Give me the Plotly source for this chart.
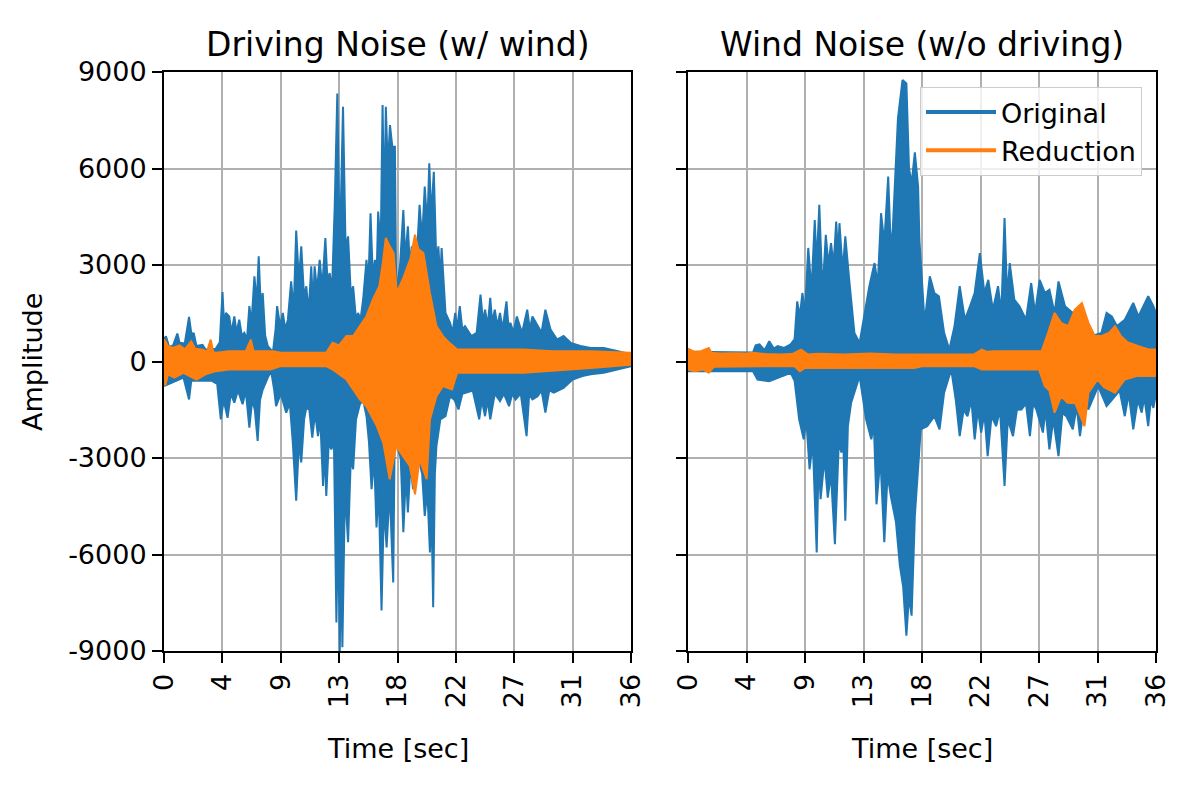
import plotly.graph_objects as go

# Envelope of each waveform as (time [s], amplitude) pairs
drive_orig_top = [
    (0, 700), (0.15, 780), (0.4, 450), (0.7, 500), (1.03, 870), (1.2, 580), (1.6, 560),
    (1.93, 1390), (2.1, 890), (2.3, 870), (2.5, 480), (2.97, 520), (3.2, 370), (4.0, 400),
    (4.3, 600), (4.51, 2160), (4.65, 1000), (4.77, 1510), (5.03, 1400), (5.2, 900),
    (5.42, 1400), (5.6, 900), (5.8, 1300), (6.0, 800), (6.19, 890), (6.4, 700), (6.58, 1720),
    (6.75, 1200), (6.97, 2650), (7.15, 1800), (7.3, 3270), (7.45, 1800), (7.61, 2130),
    (7.8, 800), (8.0, 480), (8.4, 300), (8.6, 1000), (8.72, 1720), (8.95, 1100), (9.16, 1510),
    (9.35, 1000), (9.55, 1300), (9.8, 2490), (10.0, 1600), (10.19, 4070), (10.4, 2500),
    (10.58, 3580), (10.8, 2000), (10.97, 2340), (11.15, 1500), (11.35, 2960), (11.5, 1700),
    (11.61, 2960), (11.8, 2200), (12.0, 3160), (12.2, 2300), (12.44, 3840), (12.6, 2500),
    (12.77, 2750), (12.95, 2200), (13.16, 4820), (13.36, 8330), (13.55, 3370), (13.8, 7920),
    (14.0, 3500), (14.19, 3890), (14.4, 2100), (14.58, 2340), (14.8, 1300), (14.96, 1510),
    (15.15, 1300), (15.35, 1920), (15.61, 3160), (15.75, 2300), (15.92, 4610), (16.1, 2600),
    (16.26, 3160), (16.4, 2800), (16.51, 4660), (16.7, 3500), (16.85, 7970), (16.98, 4500),
    (17.1, 7920), (17.25, 6000), (17.42, 7350), (17.6, 6680), (17.8, 6680), (17.9, 2130),
    (18.2, 3000), (18.45, 4710), (18.6, 3200), (18.8, 4200), (18.95, 3000), (19.1, 3580),
    (19.35, 2130), (19.55, 3500), (19.7, 4870), (19.9, 3800), (20.1, 5440), (20.3, 4200),
    (20.45, 6160), (20.6, 4500), (20.8, 5900), (21.0, 3000), (21.15, 3580), (21.3, 2500),
    (21.4, 3530), (21.7, 1510), (22.05, 1200), (22.25, 900), (22.45, 1510), (22.6, 1000),
    (22.8, 1720), (23.0, 1000), (23.2, 1100), (23.7, 790), (24.1, 890), (24.4, 2080),
    (24.6, 1200), (24.75, 1610), (24.95, 1100), (25.15, 1980), (25.3, 1200), (25.5, 1610),
    (25.7, 1100), (25.9, 1510), (26.1, 1000), (26.4, 1870), (26.55, 1100), (26.7, 1200),
    (26.95, 900), (27.2, 1400), (27.6, 890), (28.0, 1610), (28.2, 1000), (28.4, 1400),
    (28.8, 1100), (29.1, 900), (29.4, 1610), (29.8, 990), (30.3, 680), (30.8, 790),
    (31.35, 580), (32.1, 480), (32.9, 420), (33.9, 420), (35.0, 320), (36.0, 220),
]
drive_orig_bot = [
    (0, -765), (0.4, -700), (0.9, -610), (1.5, -500), (1.93, -1180), (2.1, -600), (3.7, -600),
    (4.1, -700), (4.38, -1800), (4.6, -1200), (4.9, -1750), (5.15, -1000), (5.42, -1280),
    (5.7, -900), (6.06, -1330), (6.3, -900), (6.58, -2060), (6.8, -1200), (7.0, -1500),
    (7.22, -2470), (7.4, -1200), (7.61, -870), (8.0, -500), (8.26, -300), (8.5, -900),
    (8.64, -1390), (9.0, -1000), (9.42, -1590), (9.7, -1300), (9.93, -2520), (10.19, -4330),
    (10.4, -2500), (10.58, -3140), (10.8, -1800), (10.97, -1440), (11.2, -1500),
    (11.43, -2370), (11.65, -1600), (11.87, -2320), (12.05, -1800), (12.26, -3870),
    (12.4, -2800), (12.51, -4180), (12.7, -2500), (12.9, -2730), (13.1, -2500),
    (13.29, -8110), (13.42, -5000), (13.55, -9000), (13.65, -6000), (13.75, -8880),
    (13.95, -4000), (14.19, -5620), (14.4, -3000), (14.58, -3350), (14.8, -1800),
    (15.1, -1330), (15.35, -1200), (15.61, -1700), (15.8, -2500), (16.0, -3970),
    (16.2, -3000), (16.38, -5160), (16.55, -4000), (16.77, -7740), (16.95, -4500),
    (17.16, -5780), (17.4, -4000), (17.67, -6870), (17.8, -1590), (18.05, -2730),
    (18.25, -3000), (18.45, -5310), (18.65, -3500), (18.8, -4690), (19.0, -3200),
    (19.2, -3970), (19.45, -2800), (19.7, -3140), (19.9, -3500), (20.1, -4800),
    (20.3, -4000), (20.5, -5940), (20.62, -4500), (20.75, -7640), (20.88, -3500),
    (21.0, -2630), (21.3, -1800), (21.7, -1700), (22.05, -1080), (22.4, -1200),
    (22.7, -1490), (23.0, -1000), (23.35, -970), (23.8, -900), (24.3, -1800), (24.5, -1200),
    (24.75, -1700), (24.95, -1200), (25.15, -1800), (25.5, -1000), (25.9, -1230),
    (26.2, -1000), (26.6, -1390), (26.85, -1000), (27.1, -1180), (27.5, -1000),
    (27.95, -2320), (28.15, -1000), (28.4, -1180), (28.8, -1080), (29.1, -900),
    (29.4, -1590), (29.7, -900), (30.05, -970), (30.8, -820), (31.5, -560), (32.25, -450),
    (32.9, -400), (33.9, -350), (35.0, -250), (36.0, -150),
]
drive_red_top = [
    (0, 700), (0.15, 600), (0.3, 480), (0.7, 420), (1.2, 500), (1.6, 380), (2.1, 630),
    (2.4, 400), (3.0, 370), (3.3, 300), (3.6, 680), (3.8, 300), (4.0, 270), (5.0, 320),
    (6.3, 320), (6.7, 680), (6.9, 320), (8.4, 320), (9.0, 270), (11.0, 270), (12.5, 270),
    (13.0, 580), (13.5, 500), (14.06, 790), (14.6, 800), (15.1, 1100), (15.6, 1400),
    (16.1, 1920), (16.6, 2340), (16.85, 3000), (17.1, 3840), (17.4, 3580), (17.7, 3370),
    (17.95, 2130), (18.45, 2600), (19.0, 3200), (19.35, 3940), (19.6, 3500), (20.0, 3370),
    (20.5, 2130), (21.0, 1100), (21.5, 790), (22.0, 580), (22.6, 370), (25.0, 380),
    (27.7, 370), (30.0, 320), (32.9, 320), (36.0, 270),
]
drive_red_bot = [
    (0, -560), (0.1, -750), (0.3, -400), (0.8, -500), (1.5, -350), (2.5, -560), (3.2, -400),
    (4.0, -300), (5.0, -250), (8.2, -250), (9.0, -145), (12.5, -145), (13.0, -250),
    (14.06, -560), (15.1, -1180), (15.6, -1390), (16.4, -2000), (16.9, -2520),
    (17.4, -3660), (17.9, -2630), (18.45, -2940), (18.95, -3250), (19.35, -4130),
    (19.7, -3040), (20.25, -3660), (20.5, -1800), (21.0, -1080), (21.5, -765),
    (22.2, -870), (22.6, -350), (27.7, -350), (32.9, -200), (36.0, -100),
]

wind_orig_top = [
    (0, 300), (5.0, 280), (5.2, 500), (5.5, 530), (5.9, 350), (6.25, 630), (6.6, 400),
    (6.9, 480), (7.4, 420), (7.9, 530), (8.2, 700), (8.4, 1870), (8.6, 1400), (8.8, 2130),
    (9.0, 1500), (9.25, 3530), (9.5, 2200), (9.75, 4400), (9.9, 3000), (10.1, 4870),
    (10.35, 2130), (10.6, 3940), (10.8, 3000), (11.0, 3680), (11.2, 3000), (11.4, 4350),
    (11.55, 3300), (11.65, 4300), (11.9, 2800), (12.1, 3890), (12.4, 2540), (12.8, 890),
    (13.2, 580), (13.6, 1510), (13.95, 2340), (14.35, 3060), (14.6, 2400), (14.85, 4610),
    (15.1, 3680), (15.4, 5750), (15.6, 3500), (15.75, 4090), (16.15, 7560), (16.5, 8750),
    (16.8, 8640), (17.0, 6000), (17.2, 5540), (17.45, 6500), (17.7, 5440), (17.8, 3780),
    (18.2, 1200), (18.6, 2650), (18.95, 2130), (19.3, 2030), (19.7, 890), (20.1, 370),
    (20.5, 1100), (20.9, 2340), (21.3, 1300), (21.7, 1720), (22.05, 2130), (22.45, 3370),
    (22.8, 2130), (23.1, 2540), (23.45, 1610), (23.85, 2340), (24.1, 1500), (24.35, 4460),
    (24.55, 2000), (24.75, 3060), (25.1, 1920), (25.5, 1720), (26.0, 1300), (26.4, 2440),
    (26.7, 1500), (27.05, 2540), (27.45, 2130), (27.8, 2230), (28.2, 1500), (28.5, 2490),
    (29.0, 1720), (29.6, 1510), (30.3, 1720), (31.05, 790), (31.8, 890), (32.2, 1510),
    (32.6, 1400), (33.0, 1100), (33.6, 1300), (34.25, 1820), (34.65, 1400), (35.4, 2030),
    (35.8, 1720), (36.0, 1500),
]
wind_orig_bot = [
    (0, -300), (5.0, -300), (5.35, -560), (6.25, -610), (6.9, -510), (7.9, -350),
    (8.2, -600), (8.55, -1800), (8.9, -2420), (9.1, -1800), (9.35, -3350), (9.6, -2500),
    (9.9, -5940), (10.05, -3000), (10.2, -4280), (10.5, -3000), (10.75, -4230),
    (11.0, -3500), (11.3, -5680), (11.6, -2500), (11.8, -2830), (11.95, -2500),
    (12.1, -4950), (12.3, -2000), (12.55, -1280), (13.2, -450), (13.7, -1800),
    (14.1, -2420), (14.3, -2000), (14.5, -4440), (14.8, -3000), (15.1, -5620),
    (15.35, -3500), (15.6, -4180), (16.0, -5000), (16.3, -6350), (16.55, -7000),
    (16.8, -8520), (17.0, -7300), (17.2, -7900), (17.45, -4800), (17.9, -2110),
    (18.4, -2010), (18.95, -1700), (19.35, -2110), (19.7, -970), (20.25, -250),
    (20.6, -1200), (20.9, -2320), (21.2, -1500), (21.5, -1700), (21.8, -1200),
    (22.05, -2420), (22.3, -1500), (22.55, -2210), (22.8, -1600), (23.05, -2940),
    (23.35, -1700), (23.7, -2010), (24.0, -1500), (24.35, -3870), (24.6, -1800),
    (25.0, -2320), (25.3, -1500), (25.65, -1490), (26.0, -1300), (26.3, -2320),
    (26.55, -1300), (26.8, -1490), (27.3, -2210), (27.5, -1500), (27.8, -2730),
    (28.1, -1800), (28.5, -2940), (28.8, -1600), (29.1, -1700), (29.6, -2110),
    (29.9, -1400), (30.15, -2320), (30.5, -1300), (30.8, -1490), (31.55, -765),
    (32.2, -1390), (32.85, -1080), (33.2, -900), (33.6, -1700), (33.9, -1000),
    (34.25, -2110), (34.6, -1200), (34.9, -1590), (35.1, -1100), (35.4, -2010),
    (35.6, -1200), (35.8, -1440), (36.0, -1000),
]
wind_red_top = [
    (0, 400), (0.2, 350), (0.5, 300), (1.0, 320), (1.6, 420), (1.8, 270), (2.5, 250),
    (3.5, 260), (4.5, 250), (5.0, 270), (6.0, 230), (7.0, 220), (8.0, 230), (8.7, 370),
    (9.2, 220), (10.0, 240), (12.0, 220), (14.0, 250), (16.0, 220), (18.0, 220),
    (20.0, 230), (22.0, 220), (22.6, 370), (23.0, 300), (23.6, 320), (25.0, 320),
    (27.2, 320), (27.7, 890), (28.2, 1510), (28.7, 1200), (29.25, 1100), (29.75, 1610),
    (30.3, 1820), (30.8, 1200), (31.3, 790), (31.8, 790), (32.4, 900), (32.85, 1100),
    (33.3, 790), (33.8, 600), (34.6, 480), (35.5, 370), (36.0, 370),
]
wind_red_bot = [
    (0, -250), (0.5, -300), (1.2, -250), (1.6, -350), (2.0, -160), (4.0, -145),
    (6.0, -145), (8.2, -145), (8.6, -300), (9.0, -200), (12.0, -200), (15.0, -200),
    (17.4, -200), (18.0, -145), (22.0, -145), (22.6, -250), (27.0, -250), (27.45, -765),
    (27.8, -900), (28.2, -1590), (28.7, -1080), (29.2, -1280), (29.8, -1300),
    (30.5, -2010), (30.8, -970), (31.5, -560), (32.0, -800), (32.85, -970), (33.6, -560),
    (34.5, -450), (36.0, -450),
]

x_tickvals = [0, 4.5, 9, 13.5, 18, 22.5, 27, 31.5, 36]
x_ticktext = ['0', '4', '9', '13', '18', '22', '27', '31', '36']
y_tickvals = [-9000, -6000, -3000, 0, 3000, 6000, 9000]
y_ticktext = ['-9000', '-6000', '-3000', '0', '3000', '6000', '9000']

BLUE = '#1f77b4'
ORANGE = '#ff7f0e'
FONT = 'DejaVu Sans'

# the page puts the figure 8 px in from the window corner
OFF = 8


def px(x):
    return (x - OFF) / 1200


def py(y):
    return 1 - (y - OFF) / 800


def band(top, bot, color, xa, ya):
    """Closed polygon: upper envelope forward, lower envelope backward"""
    xs = [t for t, _ in top] + [t for t, _ in reversed(bot)]
    ys = [a for _, a in top] + [a for _, a in reversed(bot)]
    return go.Scatter(x=xs, y=ys, mode='lines', fill='toself', fillcolor=color,
                      line=dict(color=color, width=2), xaxis=xa, yaxis=ya,
                      showlegend=False, hoverinfo='skip')


fig = go.Figure()
fig.add_trace(band(drive_orig_top, drive_orig_bot, BLUE, 'x', 'y'))
fig.add_trace(band(drive_red_top, drive_red_bot, ORANGE, 'x', 'y'))
fig.add_trace(band(wind_orig_top, wind_orig_bot, BLUE, 'x2', 'y2'))
fig.add_trace(band(wind_red_top, wind_red_bot, ORANGE, 'x2', 'y2'))

# legend entries
fig.add_trace(go.Scatter(x=[None], y=[None], mode='lines', name='Original',
                         line=dict(color=BLUE, width=4), xaxis='x2', yaxis='y2'))
fig.add_trace(go.Scatter(x=[None], y=[None], mode='lines', name='Reduction',
                         line=dict(color=ORANGE, width=4), xaxis='x2', yaxis='y2'))

axis_common = dict(
    showgrid=True, gridcolor='#b0b0b0', gridwidth=2, zeroline=False,
    showline=True, linecolor='black', linewidth=2, mirror=True,
    ticks='outside', ticklen=10, tickwidth=2, tickcolor='black', automargin=False,
    tickfont=dict(family=FONT, size=27, color='black'),
)

fig.update_layout(
    width=1200, height=800,
    margin=dict(l=0, r=0, t=0, b=0),
    paper_bgcolor='white', plot_bgcolor='white',
    font=dict(family=FONT, size=27, color='black'),
    xaxis=dict(domain=[px(164), px(631)], range=[0, 36], tickmode='array',
               tickvals=x_tickvals, ticktext=x_ticktext, tickangle=-90, anchor='y',
               **axis_common),
    xaxis2=dict(domain=[px(688), px(1156)], range=[0, 36], tickmode='array',
                tickvals=x_tickvals, ticktext=x_ticktext, tickangle=-90, anchor='y2',
                **axis_common),
    yaxis=dict(domain=[py(651), py(72)], range=[-9000, 9000], tickmode='array',
               tickvals=y_tickvals, ticktext=y_ticktext, anchor='x', **axis_common),
    yaxis2=dict(domain=[py(651), py(72)], range=[-9000, 9000], tickmode='array',
                tickvals=y_tickvals, showticklabels=False, anchor='x2', **axis_common),
    showlegend=True,
    legend=dict(x=px(1142), y=py(87), xanchor='right', yanchor='top', itemwidth=70,
                bgcolor='rgba(255,255,255,0.8)', bordercolor='#cccccc', borderwidth=1,
                font=dict(family=FONT, size=27, color='black')),
)

annotations = [
    dict(text='Driving Noise (w/ wind)', x=px(397.5), y=py(44), size=33),
    dict(text='Wind Noise (w/o driving)', x=px(922), y=py(44), size=33),
    dict(text='Time [sec]', x=px(397.5), y=py(748), size=27),
    dict(text='Time [sec]', x=px(922), y=py(748), size=27),
]
for a in annotations:
    fig.add_annotation(text=a['text'], x=a['x'], y=a['y'], xref='paper', yref='paper',
                       xanchor='center', yanchor='middle', showarrow=False,
                       font=dict(family=FONT, size=a['size'], color='black'))
fig.add_annotation(text='Amplitude', x=px(32), y=py(362), xref='paper', yref='paper',
                   xanchor='center', yanchor='middle', showarrow=False, textangle=-90,
                   font=dict(family=FONT, size=27, color='black'))

fig.write_html("out.html")
